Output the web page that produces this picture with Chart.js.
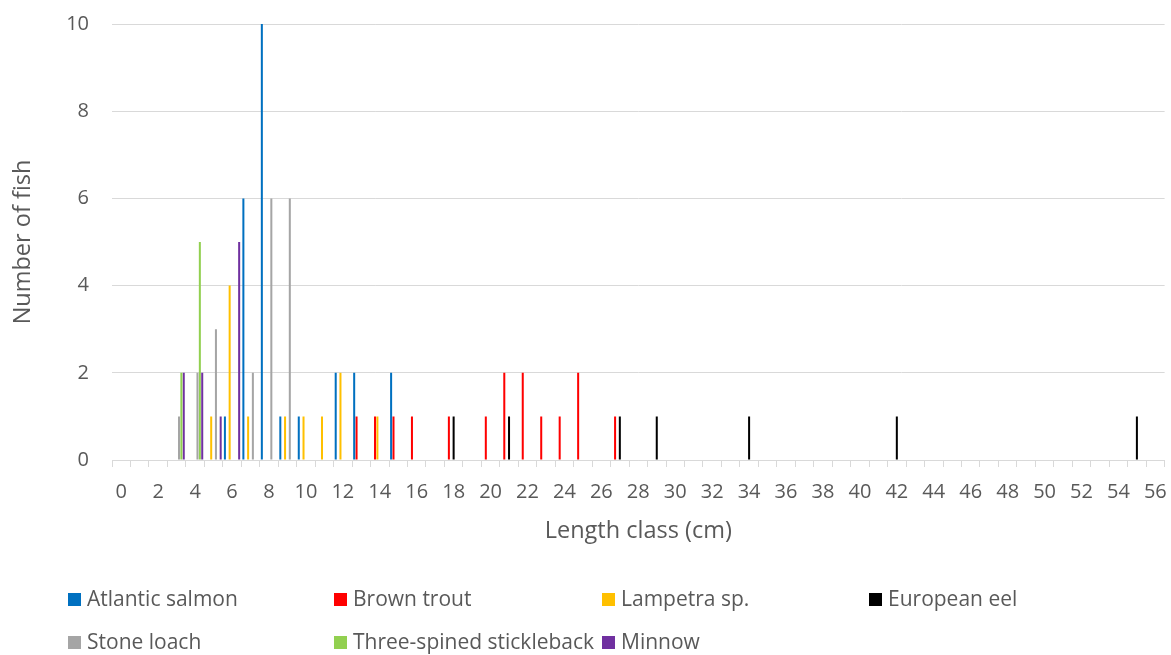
<!DOCTYPE html>
<html>
<head>
<meta charset="utf-8">
<script src="https://cdn.jsdelivr.net/npm/chart.js@4/dist/chart.umd.min.js"></script>
<style>
    html, body { margin: 0; padding: 0; background: #fff; }
    #wrap { position: relative; width: 1171px; height: 655px; }
</style>
</head>
<body>
<div id="wrap"><canvas id="fishChart" width="1171" height="655"></canvas></div>
<script>
// length classes 0..56 cm
const lengthClasses = Array.from({ length: 57 }, (_, i) => String(i));

const seriesNames = ['Atlantic salmon', 'Brown trout', 'Lampetra sp.', 'European eel', 'Stone loach', 'Three-spined stickleback', 'Minnow'];
const seriesColors = ['#0070C0', '#FF0000', '#FFC000', '#000000', '#A5A5A5', '#92D050', '#7030A0'];

// length class -> number of fish, per species
const salmonLengths = [6, 7, 8, 9, 10, 12, 13, 15];
const salmonCounts = [1, 6, 10, 1, 1, 2, 2, 2];
const troutLengths = [13, 14, 15, 16, 18, 20, 21, 22, 23, 24, 25, 27];
const troutCounts = [1, 1, 1, 1, 1, 1, 2, 2, 1, 1, 2, 1];
const lampetraLengths = [5, 6, 7, 9, 10, 11, 12, 14];
const lampetraCounts = [1, 4, 1, 1, 1, 1, 2, 1];
const eelLengths = [18, 21, 27, 29, 34, 42, 55];
const eelCounts = [1, 1, 1, 1, 1, 1, 1];
const loachLengths = [3, 4, 5, 7, 8, 9];
const loachCounts = [1, 2, 3, 2, 6, 6];
const sticklebackLengths = [3, 4];
const sticklebackCounts = [2, 5];
const minnowLengths = [3, 4, 5, 6];
const minnowCounts = [2, 2, 1, 5];

const yTicks = [0, 2, 4, 6, 8, 10];

const seriesLengths = [salmonLengths, troutLengths, lampetraLengths, eelLengths, loachLengths, sticklebackLengths, minnowLengths];
const seriesCounts = [salmonCounts, troutCounts, lampetraCounts, eelCounts, loachCounts, sticklebackCounts, minnowCounts];

function toSeries(lengths, counts) {
    const out = lengthClasses.map(() => null);
    lengths.forEach((len, i) => { out[len] = counts[i]; });
    return out;
}

const textColor = '#595959';
const gridColor = '#d9d9d9';
const fontFamily = '"Open Sans", "DejaVu Sans", sans-serif';

// Excel-style legend laid out in fixed columns below the plot
const gridLegend = {
    id: 'gridLegend',
    afterDraw(chart) {
        const ctx = chart.ctx;
        const cols = [68, 334, 602, 869];
        const rows = [600, 643];
        ctx.save();
        ctx.font = '21px ' + fontFamily;
        ctx.textBaseline = 'middle';
        ctx.textAlign = 'left';
        chart.data.datasets.forEach((ds, i) => {
            const x = cols[i % 4];
            const y = rows[Math.floor(i / 4)];
            ctx.fillStyle = ds.backgroundColor;
            ctx.fillRect(x, y - 7, 13, 13);
            ctx.fillStyle = textColor;
            ctx.fillText(ds.label, x + 19, y);
        });
        ctx.restore();
    },
};

const datasets = seriesNames.map((name, i) => ({
    label: name,
    data: toSeries(seriesLengths[i], seriesCounts[i]),
    backgroundColor: seriesColors[i],
    borderWidth: 0,
    categoryPercentage: 0.9,
    barPercentage: 0.85,
}));

new Chart(document.getElementById('fishChart'), {
    type: 'bar',
    data: { labels: lengthClasses, datasets },
    plugins: [gridLegend],
    options: {
        responsive: false,
        animation: false,
        layout: { padding: { top: 24, right: 6.4, bottom: 105.8, left: 0 } },
        plugins: {
            legend: { display: false },
            tooltip: { enabled: false },
        },
        scales: {
            x: {
                afterFit(scale) {
                    // no extra room for the end labels: plot runs to the edge
                    scale.paddingLeft = 0;
                    scale.paddingRight = 0;
                },
                grid: {
                    display: true,
                    drawOnChartArea: false,
                    drawTicks: true,
                    tickLength: 7,
                    color: gridColor,
                    offset: true,
                },
                border: { display: true, color: gridColor },
                ticks: {
                    autoSkip: false,
                    maxRotation: 0,
                    padding: 13,
                    color: textColor,
                    font: { family: fontFamily, size: 20 },
                    callback: (val, idx) => (idx % 2 === 0 ? lengthClasses[idx] : ''),
                },
                title: {
                    display: true,
                    text: 'Length class (cm)',
                    color: textColor,
                    font: { family: fontFamily, size: 23.5 },
                    padding: { top: 0, bottom: 4 },
                },
            },
            y: {
                min: 0,
                max: 10,
                afterFit(scale) {
                    scale.width = 112;
                    scale.paddingTop = 0;
                    scale.paddingBottom = 0;
                },
                afterBuildTicks(scale) { scale.ticks = yTicks.map(v => ({ value: v })); },
                grid: { color: gridColor, drawTicks: false },
                border: { display: false },
                ticks: {
                    padding: 23,
                    color: textColor,
                    font: { family: fontFamily, size: 20 },
                },
                title: {
                    display: true,
                    text: 'Number of fish',
                    color: textColor,
                    font: { family: fontFamily, size: 23.5 },
                    padding: { top: 9, bottom: 0 },
                },
            },
        },
    },
});
</script>
</body>
</html>
